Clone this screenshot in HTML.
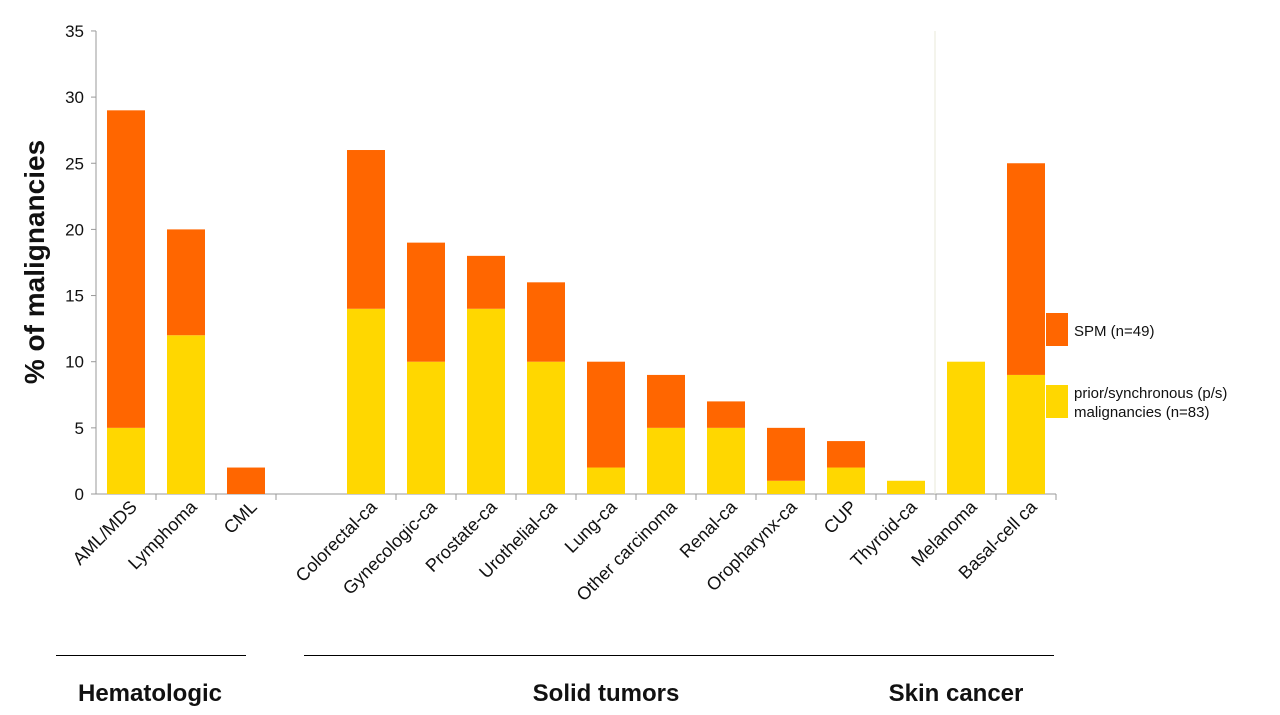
<!DOCTYPE html>
<html><head><meta charset="utf-8"><style>
body{margin:0;background:#fff;}
svg{display:block;font-family:"Liberation Sans",sans-serif;}
</style></head><body>
<svg id="chart" width="1280" height="715">
</svg>
<script>
const categories=["AML/MDS","Lymphoma","CML","","Colorectal-ca","Gynecologic-ca","Prostate-ca","Urothelial-ca","Lung-ca","Other carcinoma","Renal-ca","Oropharynx-ca","CUP","Thyroid-ca","Melanoma","Basal-cell ca"];
const priorValues=[5,12,0,null,14,10,14,10,2,5,5,1,2,1,10,9];
const spmValues=[24,8,2,null,12,9,4,6,8,4,2,4,2,0,0,16];
const yTicks=[0,5,10,15,20,25,30,35];
const NS="http://www.w3.org/2000/svg";
const svg=document.getElementById("chart");
const x0=96,slot=60,bw=38,yBase=494,pxPer=13.23;
const y=v=>yBase-v*pxPer;
const xc=i=>x0+slot*(i+0.5);
function mk(t,a,txt){const e=document.createElementNS(NS,t);for(const k in a)e.setAttribute(k,a[k]);if(txt!=null)e.textContent=txt;svg.appendChild(e);return e;}
let e=mk("line",{x1:x0,y1:y(35),x2:x0,y2:yBase,stroke:"#999","stroke-width":1});


e=mk("line",{x1:x0,y1:yBase,x2:1056,y2:yBase,stroke:"#999","stroke-width":1});


e=mk("line",{x1:935,y1:y(35),x2:935,y2:yBase,stroke:"#e8e8d8","stroke-width":1});


yTicks.forEach(v=>{
  let t=mk("line",{x1:x0-5,y1:y(v),x2:x0,y2:y(v),stroke:"#999"});
  
  
  let l=mk("text",{x:x0-12,y:y(v)+6,"text-anchor":"end","font-size":17,fill:"#111"},v);
  
  
});
categories.forEach((c,i)=>{
  const cx=xc(i);
  if(priorValues[i]===null) return;
  let t=mk("line",{x1:x0+slot*(i+1),y1:yBase,x2:x0+slot*(i+1),y2:yBase+6,stroke:"#999"});
  
  
  const p=priorValues[i],s=spmValues[i];
  if(p>0){let r=mk("rect",{x:cx-bw/2,y:y(p),width:bw,height:p*pxPer,fill:"#FFD700"});
    
    }
  if(s>0){let r=mk("rect",{x:cx-bw/2,y:y(p+s),width:bw,height:s*pxPer,fill:"#FF6600"});
    
    }
  let l=mk("text",{x:cx+12,y:yBase+14,"text-anchor":"end","font-size":18,fill:"#111",transform:`rotate(-45 ${cx+12} ${yBase+14})`},c);
  
  
});
e=mk("text",{x:44,y:262,"text-anchor":"middle","font-size":28,"font-weight":"bold",fill:"#111",transform:"rotate(-90 44 262)"},"% of malignancies");


e=mk("rect",{x:1046,y:313,width:22,height:33,fill:"#FF6600"});


e=mk("text",{x:1074,y:336,"font-size":15,fill:"#111"},"SPM (n=49)");


e=mk("rect",{x:1046,y:385,width:22,height:33,fill:"#FFD700"});


e=mk("text",{x:1074,y:398,"font-size":15,fill:"#111"},"prior/synchronous (p/s)");


e=mk("text",{x:1074,y:417,"font-size":15,fill:"#111"},"malignancies (n=83)");


e=mk("line",{x1:56,y1:655.5,x2:246,y2:655.5,stroke:"#000"});


e=mk("line",{x1:304,y1:655.5,x2:1054,y2:655.5,stroke:"#000"});


e=mk("text",{x:150,y:701,"text-anchor":"middle","font-size":24,"font-weight":"bold",fill:"#111"},"Hematologic");


e=mk("text",{x:606,y:701,"text-anchor":"middle","font-size":24,"font-weight":"bold",fill:"#111"},"Solid tumors");


e=mk("text",{x:956,y:701,"text-anchor":"middle","font-size":24,"font-weight":"bold",fill:"#111"},"Skin cancer");


</script>
</body></html>
